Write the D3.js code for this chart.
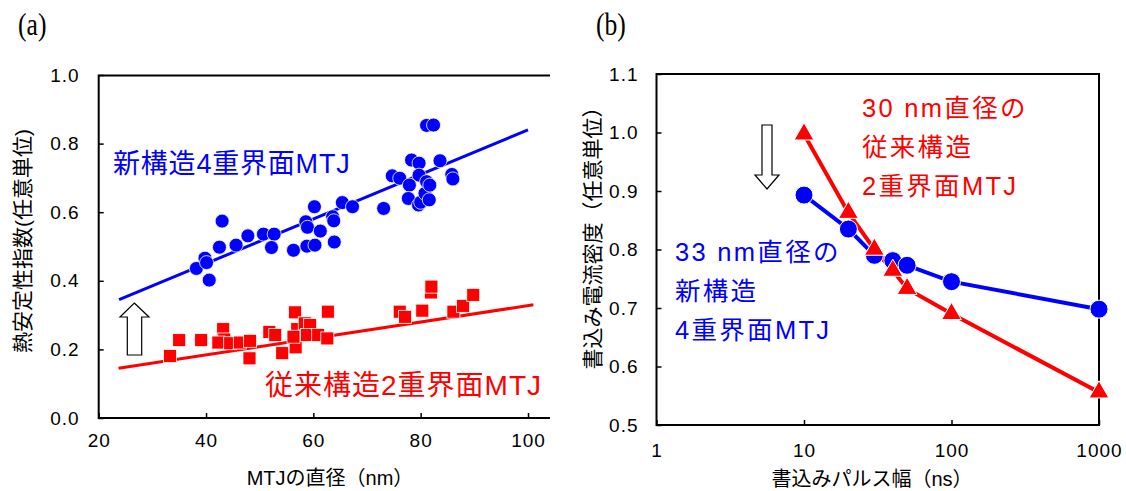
<!DOCTYPE html>
<html>
<head>
<meta charset="utf-8">
<script src="https://cdn.jsdelivr.net/npm/d3@7"></script>
<style>
  body { margin: 0; background: #fff; }
  text { font-family: "Liberation Sans", "Noto Sans CJK JP", sans-serif; }
</style>
</head>
<body>
<div id="chart"></div>
<script>
// (a) thermal stability vs MTJ diameter
const blueDiam = [38.2, 39.8, 40.1, 40.6, 42.5, 43.0, 45.6, 47.8, 50.7, 52.7, 52.2, 56.3, 58.6, 58.9, 58.8, 60.3, 60.2, 61.3, 63.6, 63.8, 63.9, 65.4, 67.3, 73.1, 74.7, 76.1, 78.3, 79.7, 79.7, 77.9, 77.7, 79.6, 80.0, 80.8, 81.6, 81.1, 81.7, 81.1, 82.4, 83.6, 85.8, 86.0]
const blueDelta = [0.436, 0.466, 0.453, 0.402, 0.498, 0.574, 0.504, 0.531, 0.536, 0.536, 0.497, 0.489, 0.572, 0.556, 0.501, 0.504, 0.616, 0.545, 0.587, 0.575, 0.513, 0.628, 0.616, 0.611, 0.706, 0.699, 0.752, 0.743, 0.708, 0.679, 0.640, 0.621, 0.629, 0.655, 0.636, 0.689, 0.679, 0.853, 0.854, 0.750, 0.710, 0.697]
const redDiam = [33.3, 35.0, 39.1, 43.2, 43.4, 42.3, 44.5, 46.3, 48.2, 48.1, 51.8, 52.9, 54.2, 56.6, 56.7, 57.0, 56.3, 58.4, 59.4, 58.8, 60.9, 62.6, 62.7, 76.1, 77.1, 80.3, 81.9, 82.0, 86.1, 87.9, 89.8]
const redDelta = [0.181, 0.227, 0.227, 0.259, 0.229, 0.220, 0.218, 0.220, 0.225, 0.174, 0.251, 0.242, 0.189, 0.308, 0.206, 0.259, 0.237, 0.276, 0.271, 0.242, 0.242, 0.232, 0.310, 0.310, 0.295, 0.313, 0.366, 0.383, 0.310, 0.327, 0.359]
const blueTrend = [[23.8, 0.345], [100, 0.84]]
const redTrend = [[23.7, 0.145], [101, 0.33]]
const aXTicks = [20, 40, 60, 80, 100]
const aYTicks = [0, 0.2, 0.4, 0.6, 0.8, 1.0]

// (b) write current density vs pulse width
const pulse = [10, 20, 30, 40, 50, 100, 1000]
const newJc = [0.893, 0.835, 0.790, 0.781, 0.773, 0.745, 0.698]
const convJc = [0.997, 0.863, 0.800, 0.764, 0.733, 0.690, 0.556]
const bXTicks = [1, 10, 100, 1000]
const bYTicks = [0.5, 0.6, 0.7, 0.8, 0.9, 1.0, 1.1]

const BLUE = "#0000ff", RED = "#ff0000"
const svg = d3.select("#chart").append("svg").attr("width", 1126).attr("height", 491)

function panelLabel(x, s) {
    svg.append("text").attr("x", 0).attr("y", 0).text(s)
        .style("font-family", "Liberation Serif").style("font-size", "32px")
        .attr("transform", `translate(${x},35) scale(0.8,1)`)
}

// ---------- panel (a) ----------
const xa = d3.scaleLinear().domain([20, 100]).range([98.7, 528])
const ya = d3.scaleLinear().domain([0, 1]).range([418, 75])

panelLabel(18, "(a)")

const axA = svg.append("g")
axA.append("g").attr("transform", "translate(0,418)")
    .call(d3.axisBottom(xa).tickValues(aXTicks).tickSizeInner(-5).tickSizeOuter(0).tickPadding(16).tickFormat(d3.format("d")))
axA.append("g").attr("transform", "translate(98.7,0)")
    .call(d3.axisLeft(ya).tickValues(aYTicks).tickSizeInner(-5).tickSizeOuter(0).tickPadding(19).tickFormat(d3.format(".1f")))
axA.selectAll(".domain").remove()
axA.selectAll("line").attr("stroke", "#000").attr("stroke-width", 1.5)
// frame: left, top, bottom
svg.append("path").attr("d", "M550,75.5H98.7V418H550").attr("fill", "none").attr("stroke", "#000").attr("stroke-width", 2)

const line = d3.line()
svg.append("path").attr("d", line(blueTrend.map(d => [xa(d[0]), ya(d[1])])))
    .attr("stroke", BLUE).attr("stroke-width", 3).attr("fill", "none")
svg.append("path").attr("d", line(redTrend.map(d => [xa(d[0]), ya(d[1])])))
    .attr("stroke", RED).attr("stroke-width", 3).attr("fill", "none")

svg.append("g").selectAll("rect").data(redDiam).enter().append("rect")
    .attr("x", (d) => xa(d) - 6.5).attr("y", (d, i) => ya(redDelta[i]) - 6.5)
    .attr("width", 13).attr("height", 13)
    .attr("fill", RED).attr("stroke", "#fff").attr("stroke-width", 0.8)

svg.append("g").selectAll("circle").data(blueDiam).enter().append("circle")
    .attr("cx", (d) => xa(d)).attr("cy", (d, i) => ya(blueDelta[i])).attr("r", 7)
    .attr("fill", BLUE).attr("stroke", "#fff").attr("stroke-width", 0.8)

svg.append("text").attr("x", 113).attr("y", 173).text("新構造4重界面MTJ")
    .attr("fill", BLUE).style("font-size", "27px").style("letter-spacing", "0.8px")
svg.append("text").attr("x", 265).attr("y", 395).text("従来構造2重界面MTJ")
    .attr("fill", RED).style("font-size", "28px").style("letter-spacing", "1px")

// hollow up arrow
svg.append("path").attr("d", "M134.3,303L149,317H141.7V355H127.3V317H120Z")
    .attr("fill", "#fff").attr("stroke", "#000").attr("stroke-width", 1.2)

svg.append("text").attr("x", 22).attr("y", 241).text("熱安定性指数(任意単位)")
    .attr("text-anchor", "middle").attr("dominant-baseline", "central")
    .attr("transform", "rotate(-90,22,241)").style("font-size", "21px")
svg.append("text").attr("x", 330).attr("y", 485).text("MTJの直径（nm）")
    .attr("text-anchor", "middle").style("font-size", "20px")

// ---------- panel (b) ----------
const xb = d3.scaleLog().domain([1, 1000]).range([656.5, 1099])
const yb = d3.scaleLinear().domain([0.5, 1.1]).range([425, 74])

panelLabel(596, "(b)")

const axB = svg.append("g")
axB.append("g").attr("transform", "translate(0,425)")
    .call(d3.axisBottom(xb).tickValues(bXTicks).tickSizeInner(-5).tickSizeOuter(0).tickPadding(19).tickFormat(d3.format("d")))
axB.append("g").attr("transform", "translate(656.5,0)")
    .call(d3.axisLeft(yb).tickValues(bYTicks).tickSizeInner(-5).tickSizeOuter(0).tickPadding(18).tickFormat(d3.format(".1f")))
axB.selectAll(".domain").remove()
axB.selectAll("line").attr("stroke", "#000").attr("stroke-width", 1.5)
svg.append("rect").attr("x", 656.5).attr("y", 74).attr("width", 1099 - 656.5).attr("height", 425 - 74)
    .attr("fill", "none").attr("stroke", "#000").attr("stroke-width", 2)

svg.selectAll(".tick text").style("font-size", "19px").style("letter-spacing", "1px").attr("fill", "#000")

const lineB = d3.line().x((d) => xb(d[0])).y((d) => yb(d[1]))
svg.append("path").attr("d", lineB(pulse.map((p, i) => [p, newJc[i]])))
    .attr("stroke", BLUE).attr("stroke-width", 4).attr("fill", "none")
svg.append("path").attr("d", lineB(pulse.map((p, i) => [p, convJc[i]])))
    .attr("stroke", RED).attr("stroke-width", 4).attr("fill", "none")

svg.append("g").selectAll("circle").data(pulse).enter().append("circle")
    .attr("cx", (d) => xb(d)).attr("cy", (d, i) => yb(newJc[i])).attr("r", 9)
    .attr("fill", BLUE).attr("stroke", "#fff").attr("stroke-width", 1)

const tri = d3.symbol().type(d3.symbolTriangle).size(170)
svg.append("g").selectAll("path").data(pulse).enter().append("path")
    .attr("d", tri).attr("transform", (d, i) => `translate(${xb(d)},${yb(convJc[i])})`)
    .attr("fill", RED).attr("stroke", "#fff").attr("stroke-width", 1)

const redLines = ["30 nm直径の", "従来構造", "2重界面MTJ"]
svg.append("g").selectAll("text").data(redLines).enter().append("text")
    .attr("x", 862).attr("y", (d, i) => 117 + i * 39).text((d) => d)
    .attr("fill", RED).style("font-size", "25.5px").style("letter-spacing", "2.3px")
const blueLines = ["33 nm直径の", "新構造", "4重界面MTJ"]
svg.append("g").selectAll("text").data(blueLines).enter().append("text")
    .attr("x", 675).attr("y", (d, i) => 261 + i * 39).text((d) => d)
    .attr("fill", BLUE).style("font-size", "25.5px").style("letter-spacing", "2.3px")

// hollow down arrow
svg.append("path").attr("d", "M762,125H772V175H779L767,189L755,175H762Z")
    .attr("fill", "#fff").attr("stroke", "#000").attr("stroke-width", 1.2)

svg.append("text").attr("x", 592).attr("y", 233).text("書込み電流密度（任意単位）")
    .attr("text-anchor", "middle").attr("dominant-baseline", "central")
    .attr("transform", "rotate(-90,592,233)").style("font-size", "21px")
svg.append("text").attr("x", 872).attr("y", 486).text("書込みパルス幅（ns）")
    .attr("text-anchor", "middle").style("font-size", "20px")
</script>
</body>
</html>
